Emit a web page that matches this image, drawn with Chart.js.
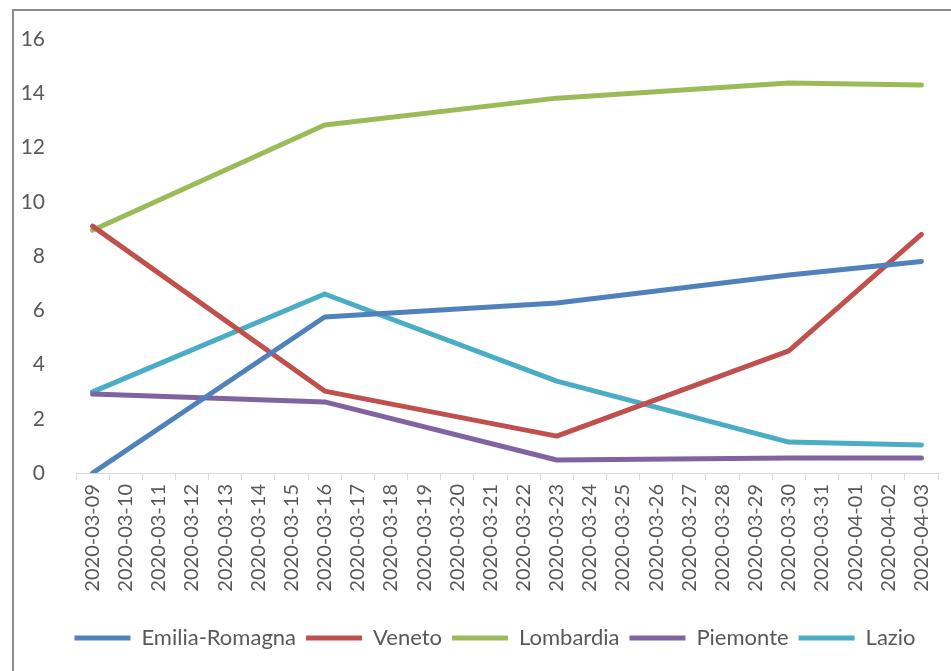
<!DOCTYPE html>
<html>
<head>
<meta charset="utf-8">
<script src="https://cdn.jsdelivr.net/npm/chart.js@4.4.1/dist/chart.umd.min.js"></script>
<style>
    body { margin: 0; background: #fff; overflow: hidden; }
    #cornice {
        position: absolute; left: 12px; top: 9px;
        width: 1000px; height: 700px;
        border: 2px solid #8c8c8c;
    }
    #grafico { position: absolute; left: 0; top: 0; }
</style>
</head>
<body>
<div id="cornice"></div>
<canvas id="grafico" width="951" height="671"></canvas>
<script>
const giorni = [
    '2020-03-09', '2020-03-10', '2020-03-11', '2020-03-12', '2020-03-13', '2020-03-14',
    '2020-03-15', '2020-03-16', '2020-03-17', '2020-03-18', '2020-03-19', '2020-03-20',
    '2020-03-21', '2020-03-22', '2020-03-23', '2020-03-24', '2020-03-25', '2020-03-26',
    '2020-03-27', '2020-03-28', '2020-03-29', '2020-03-30', '2020-03-31', '2020-04-01',
    '2020-04-02', '2020-04-03'
];

// valori solo nei giorni rilevati (09, 16, 23, 30 marzo e 3 aprile)
const _ = null;
const emiliaRomagna = [0, _, _, _, _, _, _, 5.75, _, _, _, _, _, _, 6.27, _, _, _, _, _, _, 7.3, _, _, _, 7.8];
const veneto        = [9.1, _, _, _, _, _, _, 3.02, _, _, _, _, _, _, 1.36, _, _, _, _, _, _, 4.5, _, _, _, 8.8];
const lombardia     = [8.95, _, _, _, _, _, _, 12.83, _, _, _, _, _, _, 13.82, _, _, _, _, _, _, 14.38, _, _, _, 14.3];
const piemonte      = [2.91, _, _, _, _, _, _, 2.62, _, _, _, _, _, _, 0.48, _, _, _, _, _, _, 0.55, _, _, _, 0.55];
const lazio         = [2.99, _, _, _, _, _, _, 6.6, _, _, _, _, _, _, 3.39, _, _, _, _, _, _, 1.14, _, _, _, 1.03];

const regioni = ['Emilia-Romagna', 'Veneto', 'Lombardia', 'Piemonte', 'Lazio'];
const serie = [emiliaRomagna, veneto, lombardia, piemonte, lazio];
const colori = ['#4f81bd', '#c0504d', '#9bbb59', '#8064a2', '#4bacc6'];
const ticksY = [0, 2, 4, 6, 8, 10, 12, 14, 16];

const grigioTesto = '#595959';
const font = 'Lato';

const datasets = regioni.map((nome, i) => ({
    label: nome,
    data: serie[i],
    borderColor: colori[i],
    backgroundColor: colori[i],
    borderWidth: 5,
    borderCapStyle: 'round',
    borderJoinStyle: 'round',
    pointRadius: 0,
    pointStyle: 'line',
    tension: 0,
    spanGaps: true
}));

// sposta la legenda un po' a destra, come nell'originale
const spostaLegenda = {
    id: 'spostaLegenda',
    afterLayout(chart) {
        const l = chart.legend;
        if (!l) return;
        l.left += 26;
        l.right += 26;
    }
};

new Chart(document.getElementById('grafico'), {
    type: 'line',
    data: { labels: giorni, datasets },
    plugins: [spostaLegenda],
    options: {
        responsive: false,
        animation: false,
        layout: { padding: { left: 0, right: 13, top: 39, bottom: 12 } },
        plugins: {
            legend: {
                position: 'bottom',
                labels: {
                    color: grigioTesto,
                    font: { family: font, size: 22 },
                    usePointStyle: true,
                    pointStyleWidth: 56,
                    padding: 10
                }
            },
            tooltip: { enabled: false }
        },
        scales: {
            x: {
                offset: true,
                grid: {
                    offset: true,
                    drawOnChartArea: false,
                    color: '#d9d9d9',
                    tickLength: 7
                },
                border: { color: '#d9d9d9', width: 1 },
                ticks: {
                    color: grigioTesto,
                    font: { family: font, size: 20 },
                    minRotation: 90,
                    maxRotation: 90,
                    autoSkip: false,
                    padding: 4
                },
                afterFit: s => { s.height = 144; }
            },
            y: {
                min: ticksY[0],
                max: ticksY[ticksY.length - 1],
                grid: { display: false },
                border: { display: false },
                ticks: {
                    stepSize: ticksY[1] - ticksY[0],
                    color: grigioTesto,
                    font: { family: font, size: 21 },
                    padding: 23
                },
                afterFit: s => { s.width = 76; }
            }
        }
    }
});
</script>
</body>
</html>
